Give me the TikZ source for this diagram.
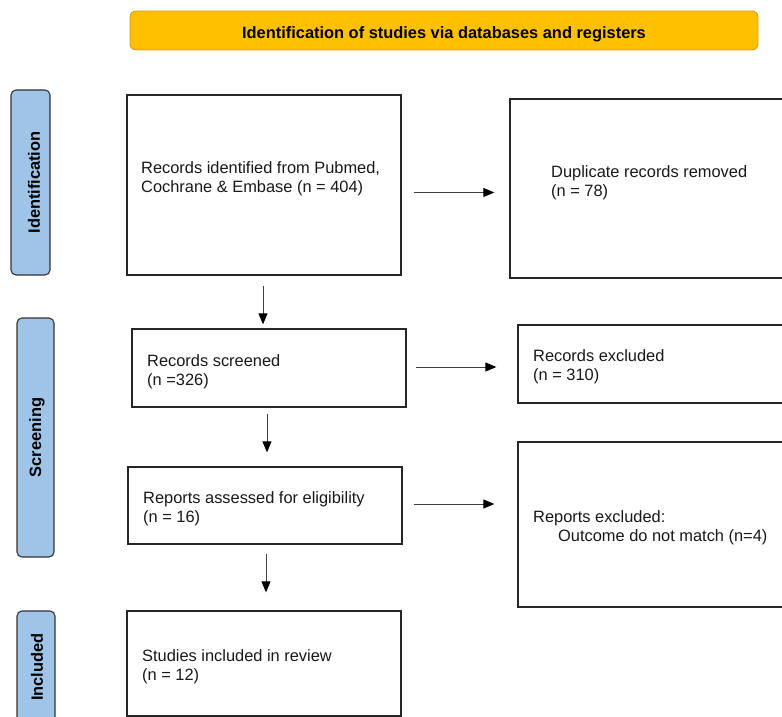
\documentclass[tikz,border=0pt]{standalone}
\usepackage{fontspec}
\setmainfont{Liberation Sans}
\usetikzlibrary{arrows.meta}
\definecolor{stageblue}{HTML}{A0C4E8}
\definecolor{bannerorange}{HTML}{FFC000}
\definecolor{bannerline}{HTML}{D4A21A}
\newcommand\bodyfont{\fontsize{16.4}{19}\selectfont}
\newcommand\headfont{\fontsize{16.4}{19}\selectfont\bfseries}
\begin{document}
\begin{tikzpicture}[x=1pt,y=-1pt,
  box/.style={draw=black!85, line width=1.3pt, fill=white, inner sep=0pt},
  stage/.style={draw=black!80, line width=1.1pt, fill=stageblue, rounded corners=5pt, inner sep=0pt},
  banner/.style={draw=bannerline, line width=0.9pt, fill=bannerorange, rounded corners=6pt, inner sep=0pt},
  arr/.style={-{Triangle[length=11pt,width=9pt,color=black]}, line width=0.9pt, draw=black!75},
  txt/.style={anchor=north west, align=left, inner sep=0pt, font=\bodyfont, text=black!90},
  stagetxt/.style={rotate=90, inner sep=0pt, font=\headfont}
]
\useasboundingbox (0,0) rectangle (782,717);
\clip (0,0) rectangle (782,717);

% banner
\node[banner, minimum width=628pt, minimum height=39pt] (ban) at (444,30.5) {};
\node[anchor=base, inner sep=0pt, font=\headfont] (bantxt) at (444,38.3) {Identification of studies via databases and registers};

% stage labels
\node[stage, minimum width=39pt, minimum height=185pt] (sid) at (30.5,182.5) {};
\node[stagetxt] (sidtxt) at (34,182.5) {Identification};
\node[stage, minimum width=37pt, minimum height=239pt] (ssc) at (35.5,437.5) {};
\node[stagetxt] (ssctxt) at (37,437.5) {Screening};
\node[stage, minimum width=38pt, minimum height=112pt] (sin) at (36,667) {};
\node[stagetxt] (sintxt) at (37,667) {Included};

% boxes
\node[box, minimum width=274pt, minimum height=180pt] (rid) at (264,185) {};
\node[box, minimum width=280pt, minimum height=179pt] (dup) at (650,188.5) {};
\node[box, minimum width=274pt, minimum height=78pt] (rsc) at (269,368) {};
\node[box, minimum width=272pt, minimum height=78pt] (rex) at (654,364) {};
\node[box, minimum width=274pt, minimum height=77pt] (rae) at (265,505.5) {};
\node[box, minimum width=272pt, minimum height=165pt] (rpe) at (654,524.5) {};
\node[box, minimum width=274pt, minimum height=105pt] (inc) at (264,663.5) {};

% texts
\node[txt] (ridtxt) at (141,161) {Records identified from Pubmed,\\Cochrane \& Embase (n = 404)};
\node[txt] (duptxt) at (551,165) {Duplicate records removed\\(n = 78)};
\node[txt] (rsctxt) at (147,354) {Records screened\\(n =326)};
\node[txt] (rextxt) at (533,349) {Records excluded\\(n = 310)};
\node[txt] (raetxt) at (143,491) {Reports assessed for eligibility\\(n = 16)};
\node[txt] (rpetxt) at (533,510) {Reports excluded:\\\hspace*{25pt}Outcome do not match (n=4)};
\node[txt] (inctxt) at (142,649) {Studies included in review\\(n = 12)};

% horizontal arrows
\draw[arr, shorten <=12pt, shorten >=15pt] ([yshift=-7.5pt]rid.east) -- ([yshift=-4pt]dup.west);
\draw[arr, shorten <=9pt, shorten >=21pt] ([yshift=1pt]rsc.east) -- ([yshift=-3pt]rex.west);
\draw[arr, shorten <=11pt, shorten >=23pt] ([yshift=1.5pt]rae.east) -- ([yshift=20.5pt]rpe.west);

% vertical arrows
\draw[arr, shorten <=10pt, shorten >=4pt] ([xshift=-1pt]rid.south) -- ([xshift=-6pt]rsc.north);
\draw[arr, shorten <=6pt, shorten >=14pt] ([xshift=-2pt]rsc.south) -- ([xshift=2pt]rae.north);
\draw[arr, shorten <=9pt, shorten >=18pt] ([xshift=1pt]rae.south) -- ([xshift=2pt]inc.north);
\end{tikzpicture}
\end{document}
